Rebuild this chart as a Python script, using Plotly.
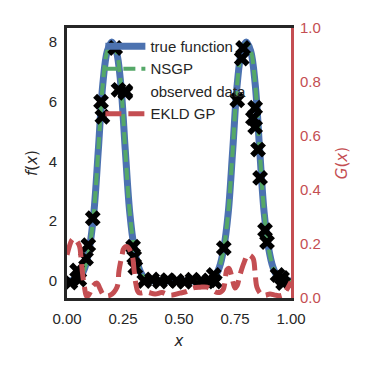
import plotly.graph_objects as go

# grid for the smooth curves
x_grid = [0.00, 0.02, 0.04, 0.06, 0.08, 0.10, 0.12, 0.14, 0.16, 0.18,
          0.20, 0.22, 0.24, 0.26, 0.28, 0.30, 0.32, 0.34, 0.36, 0.38,
          0.40, 0.42, 0.44, 0.46, 0.48, 0.50, 0.52, 0.54, 0.56, 0.58,
          0.60, 0.62, 0.64, 0.66, 0.68, 0.70, 0.72, 0.74, 0.76, 0.78,
          0.80, 0.82, 0.84, 0.86, 0.88, 0.90, 0.92, 0.94, 0.96, 0.98, 1.00]
true_f = [0.0, 0.01, 0.05, 0.15, 0.45, 1.1, 2.3, 4.4, 6.6, 7.7,
          8.0, 7.7, 6.6, 4.4, 2.3, 1.1, 0.45, 0.15, 0.05, 0.01,
          0.0, 0.0, 0.0, 0.0, 0.0, 0.0, 0.0, 0.0, 0.0, 0.0,
          0.0, 0.01, 0.05, 0.15, 0.45, 1.1, 2.3, 4.4, 6.6, 7.7,
          8.0, 7.7, 6.6, 4.4, 2.3, 1.1, 0.45, 0.15, 0.05, 0.01, 0.0]
nsgp_f = [0.0, 0.01, 0.05, 0.15, 0.45, 1.1, 2.3, 4.4, 6.6, 7.7,
          7.95, 7.7, 6.6, 4.4, 2.3, 1.1, 0.45, 0.15, 0.04, 0.0,
          -0.02, -0.03, -0.03, -0.03, -0.03, -0.03, -0.03, -0.03, -0.03, -0.02,
          0.0, 0.01, 0.05, 0.15, 0.45, 1.1, 2.3, 4.4, 6.6, 7.7,
          7.95, 7.7, 6.6, 4.4, 2.3, 1.1, 0.45, 0.15, 0.05, 0.01, 0.0]

# observed data
obs_x = [0.015, 0.045, 0.055, 0.085, 0.095, 0.115, 0.152, 0.158, 0.215, 0.23, 0.26,
         0.295, 0.30, 0.305, 0.345, 0.38, 0.415, 0.45, 0.49, 0.525, 0.56, 0.60,
         0.635, 0.655, 0.66, 0.70, 0.76, 0.78, 0.786, 0.83, 0.84, 0.84, 0.853,
         0.862, 0.884, 0.893, 0.94, 0.96, 0.965]
obs_y = [-0.05, 0.35, 0.05, 0.75, 1.2, 2.1, 6.0, 5.5, 7.8, 6.4, 6.3,
         1.15, 0.8, 0.45, 0.0, 0.05, -0.02, 0.03, 0.0, -0.03, 0.04, 0.0,
         0.02, 0.2, -0.02, 1.1, 6.05, 7.45, 7.8, 5.45, 5.8, 5.15, 4.4,
         3.45, 1.7, 1.3, 0.2, 0.1, -0.07]

# EKLD GP, G(x) on the right axis
g_x = [0.0, 0.022, 0.031, 0.054, 0.0625, 0.067, 0.076, 0.089, 0.103, 0.116,
       0.134, 0.147, 0.165, 0.192, 0.223, 0.232, 0.246, 0.254, 0.268, 0.29,
       0.30, 0.308, 0.32, 0.357, 0.393, 0.424, 0.46, 0.504, 0.536, 0.5625,
       0.594, 0.625, 0.647, 0.674, 0.696, 0.714, 0.723, 0.737, 0.75, 0.759,
       0.772, 0.79, 0.808, 0.83, 0.839, 0.848, 0.866, 0.884, 0.906, 0.933,
       0.96, 0.98, 1.0]
g_y = [0.16, 0.215, 0.22, 0.196, 0.15, 0.11, 0.05, 0.005, 0.02, 0.045,
       0.055, 0.035, 0.01, 0.01, 0.04, 0.10, 0.16, 0.185, 0.19, 0.16,
       0.10, 0.05, 0.02, 0.022, 0.015, 0.02, 0.01, 0.018, 0.025, 0.037,
       0.04, 0.04, 0.03, 0.02, 0.03, 0.105, 0.11, 0.074, 0.037, 0.045,
       0.085, 0.13, 0.16, 0.148, 0.10, 0.04, 0.015, 0.01, 0.015, 0.01,
       0.01, 0.03, 0.06]

blue = "#4C72B0"
green = "#55A868"
red = "#C44E52"
dark = "#262626"
font = "Arial, Liberation Sans, sans-serif"
math = "DejaVu Sans"

fig = go.Figure()
fig.add_trace(go.Scatter(x=x_grid, y=true_f, mode="lines", name="true function",
                         line=dict(color=blue, width=7, shape="spline")))
fig.add_trace(go.Scatter(x=x_grid, y=nsgp_f, mode="lines", name="NSGP",
                         line=dict(color=green, width=4, dash="12px,6px", shape="spline")))
fig.add_trace(go.Scatter(x=obs_x, y=obs_y, mode="markers", name="observed data",
                         marker=dict(symbol="x", size=14, color="black", line=dict(width=0))))
fig.add_trace(go.Scatter(x=g_x, y=g_y, mode="lines", name="EKLD GP", yaxis="y2",
                         line=dict(color=red, width=5, dash="16px,7px", shape="spline")))

# page body has an 8px margin, so the figure is a bit smaller and shifted
fig.update_layout(
    width=365, height=365,
    margin=dict(l=59, r=82, t=20, b=75),
    plot_bgcolor="white", paper_bgcolor="white",
    font=dict(family=font, size=15, color=dark),
    legend=dict(x=0.149, y=0.993, xanchor="left", yanchor="top", itemwidth=40,
                bgcolor="rgba(0,0,0,0)", borderwidth=0, font=dict(size=15)),
    xaxis=dict(range=[0, 1], tickvals=[0, 0.25, 0.5, 0.75, 1.0], tickformat=".2f",
               showgrid=False, zeroline=False, showline=True, mirror=True,
               linecolor=dark, linewidth=3, ticks="", ticklabelstandoff=5, automargin=False,
               title=dict(text="<i>x</i>", font=dict(family=math, size=15), standoff=10)),
    yaxis=dict(range=[-0.57, 8.47], tickvals=[0, 2, 4, 6, 8],
               showgrid=False, zeroline=False, showline=True, mirror=False,
               linecolor=dark, linewidth=3, ticks="", ticklabelstandoff=4, automargin=False,
               title=dict(text="<i>f</i>(<i>x</i>)", font=dict(family=math, size=15), standoff=8)),
    yaxis2=dict(range=[0, 1], tickvals=[0, 0.2, 0.4, 0.6, 0.8, 1.0], tickformat=".1f",
                overlaying="y", side="right",
                showgrid=False, zeroline=False, showline=True,
                linecolor=red, linewidth=3, ticks="", ticklabelstandoff=3, automargin=False,
                tickfont=dict(color=red),
                title=dict(text="<i>G</i>(<i>x</i>)", font=dict(family=math, size=15, color=red), standoff=17)),
)

fig.write_html("out.html")
